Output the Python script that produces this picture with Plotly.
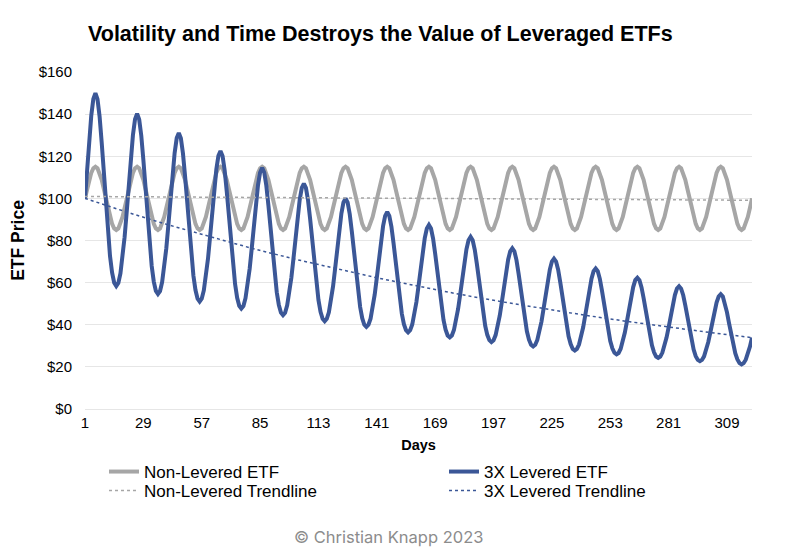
import plotly.graph_objects as go

days = list(range(1, 322))

non_levered = [
    100.0, 104.6, 108.8, 112.1, 114.3, 115.0, 114.3, 112.1, 108.8, 104.6, 100.0, 95.4, 91.2, 87.9, 85.7, 85.0, 85.7, 87.9, 91.2, 95.4,
    100.0, 104.6, 108.8, 112.1, 114.3, 115.0, 114.3, 112.1, 108.8, 104.6, 100.0, 95.4, 91.2, 87.9, 85.7, 85.0, 85.7, 87.9, 91.2, 95.4,
    100.0, 104.6, 108.8, 112.1, 114.3, 115.0, 114.3, 112.1, 108.8, 104.6, 100.0, 95.4, 91.2, 87.9, 85.7, 85.0, 85.7, 87.9, 91.2, 95.4,
    100.0, 104.6, 108.8, 112.1, 114.3, 115.0, 114.3, 112.1, 108.8, 104.6, 100.0, 95.4, 91.2, 87.9, 85.7, 85.0, 85.7, 87.9, 91.2, 95.4,
    100.0, 104.6, 108.8, 112.1, 114.3, 115.0, 114.3, 112.1, 108.8, 104.6, 100.0, 95.4, 91.2, 87.9, 85.7, 85.0, 85.7, 87.9, 91.2, 95.4,
    100.0, 104.6, 108.8, 112.1, 114.3, 115.0, 114.3, 112.1, 108.8, 104.6, 100.0, 95.4, 91.2, 87.9, 85.7, 85.0, 85.7, 87.9, 91.2, 95.4,
    100.0, 104.6, 108.8, 112.1, 114.3, 115.0, 114.3, 112.1, 108.8, 104.6, 100.0, 95.4, 91.2, 87.9, 85.7, 85.0, 85.7, 87.9, 91.2, 95.4,
    100.0, 104.6, 108.8, 112.1, 114.3, 115.0, 114.3, 112.1, 108.8, 104.6, 100.0, 95.4, 91.2, 87.9, 85.7, 85.0, 85.7, 87.9, 91.2, 95.4,
    100.0, 104.6, 108.8, 112.1, 114.3, 115.0, 114.3, 112.1, 108.8, 104.6, 100.0, 95.4, 91.2, 87.9, 85.7, 85.0, 85.7, 87.9, 91.2, 95.4,
    100.0, 104.6, 108.8, 112.1, 114.3, 115.0, 114.3, 112.1, 108.8, 104.6, 100.0, 95.4, 91.2, 87.9, 85.7, 85.0, 85.7, 87.9, 91.2, 95.4,
    100.0, 104.6, 108.8, 112.1, 114.3, 115.0, 114.3, 112.1, 108.8, 104.6, 100.0, 95.4, 91.2, 87.9, 85.7, 85.0, 85.7, 87.9, 91.2, 95.4,
    100.0, 104.6, 108.8, 112.1, 114.3, 115.0, 114.3, 112.1, 108.8, 104.6, 100.0, 95.4, 91.2, 87.9, 85.7, 85.0, 85.7, 87.9, 91.2, 95.4,
    100.0, 104.6, 108.8, 112.1, 114.3, 115.0, 114.3, 112.1, 108.8, 104.6, 100.0, 95.4, 91.2, 87.9, 85.7, 85.0, 85.7, 87.9, 91.2, 95.4,
    100.0, 104.6, 108.8, 112.1, 114.3, 115.0, 114.3, 112.1, 108.8, 104.6, 100.0, 95.4, 91.2, 87.9, 85.7, 85.0, 85.7, 87.9, 91.2, 95.4,
    100.0, 104.6, 108.8, 112.1, 114.3, 115.0, 114.3, 112.1, 108.8, 104.6, 100.0, 95.4, 91.2, 87.9, 85.7, 85.0, 85.7, 87.9, 91.2, 95.4,
    100.0, 104.6, 108.8, 112.1, 114.3, 115.0, 114.3, 112.1, 108.8, 104.6, 100.0, 95.4, 91.2, 87.9, 85.7, 85.0, 85.7, 87.9, 91.2, 95.4,
    100.0,
]

levered_3x = [
    100.0, 113.9, 127.6, 139.2, 147.2, 150.0, 147.1, 138.9, 126.6, 112.0, 97.1, 83.6, 72.6, 64.7, 60.0, 58.4, 59.9, 64.4, 71.7, 81.6,
    93.5, 106.5, 119.2, 130.1, 137.6, 140.2, 137.5, 129.8, 118.3, 104.7, 90.8, 78.1, 67.9, 60.5, 56.1, 54.6, 56.0, 60.2, 67.0, 76.2,
    87.4, 99.5, 111.4, 121.6, 128.6, 131.1, 128.5, 121.3, 110.6, 97.8, 84.8, 73.0, 63.4, 56.5, 52.4, 51.0, 52.4, 56.3, 62.6, 71.3,
    81.7, 93.0, 104.2, 113.7, 120.2, 122.5, 120.1, 113.4, 103.4, 91.4, 79.3, 68.3, 59.3, 52.8, 49.0, 47.7, 48.9, 52.6, 58.6, 66.6,
    76.3, 86.9, 97.4, 106.3, 112.3, 114.5, 112.3, 106.0, 96.6, 85.5, 74.1, 63.8, 55.4, 49.4, 45.8, 44.6, 45.7, 49.2, 54.7, 62.3,
    71.3, 81.3, 91.0, 99.3, 105.0, 107.0, 105.0, 99.1, 90.3, 79.9, 69.3, 59.6, 51.8, 46.1, 42.8, 41.7, 42.8, 45.9, 51.2, 58.2,
    66.7, 75.9, 85.1, 92.8, 98.1, 100.0, 98.1, 92.6, 84.4, 74.7, 64.7, 55.7, 48.4, 43.1, 40.0, 39.0, 40.0, 42.9, 47.8, 54.4,
    62.3, 71.0, 79.5, 86.8, 91.7, 93.5, 91.7, 86.6, 78.9, 69.8, 60.5, 52.1, 45.2, 40.3, 37.4, 36.4, 37.4, 40.1, 44.7, 50.8,
    58.3, 66.4, 74.3, 81.1, 85.7, 87.4, 85.7, 80.9, 73.7, 65.2, 56.6, 48.7, 42.3, 37.7, 34.9, 34.0, 34.9, 37.5, 41.8, 47.5,
    54.4, 62.0, 69.5, 75.8, 80.1, 81.7, 80.1, 75.6, 68.9, 61.0, 52.9, 45.5, 39.5, 35.2, 32.7, 31.8, 32.6, 35.1, 39.0, 44.4,
    50.9, 58.0, 64.9, 70.9, 74.9, 76.3, 74.9, 70.7, 64.4, 57.0, 49.4, 42.5, 36.9, 32.9, 30.5, 29.7, 30.5, 32.8, 36.5, 41.5,
    47.6, 54.2, 60.7, 66.2, 70.0, 71.4, 70.0, 66.1, 60.2, 53.3, 46.2, 39.8, 34.5, 30.8, 28.5, 27.8, 28.5, 30.6, 34.1, 38.8,
    44.5, 50.6, 56.7, 61.9, 65.4, 66.7, 65.4, 61.8, 56.3, 49.8, 43.2, 37.2, 32.3, 28.8, 26.7, 26.0, 26.6, 28.6, 31.9, 36.3,
    41.6, 47.3, 53.0, 57.9, 61.2, 62.3, 61.1, 57.7, 52.6, 46.5, 40.3, 34.7, 30.2, 26.9, 24.9, 24.3, 24.9, 26.8, 29.8, 33.9,
    38.8, 44.2, 49.5, 54.1, 57.2, 58.3, 57.1, 54.0, 49.2, 43.5, 37.7, 32.5, 28.2, 25.1, 23.3, 22.7, 23.3, 25.0, 27.9, 31.7,
    36.3, 41.4, 46.3, 50.5, 53.4, 54.5, 53.4, 50.4, 45.9, 40.7, 35.2, 30.3, 26.4, 23.5, 21.8, 21.2, 21.8, 23.4, 26.0, 29.6,
    33.9,
]

non_levered_trend_days = [1, 321]
non_levered_trend = [100.9, 99.1]

levered_trend_days = [1, 21, 41, 61, 81, 101, 121, 141, 161, 181, 201, 221, 241, 261, 281, 301, 321]
levered_trend = [100.0, 93.5, 87.4, 81.7, 76.3, 71.3, 66.7, 62.3, 58.3, 54.4, 50.9, 47.6, 44.5, 41.6, 38.8, 36.3, 33.9]

x_tick_vals = [1, 29, 57, 85, 113, 141, 169, 197, 225, 253, 281, 309]
x_tick_text = ["1", "29", "57", "85", "113", "141", "169", "197", "225", "253", "281", "309"]

GRAY = "#a6a6a6"
NAVY = "#3b5797"
FONT = "Liberation Sans, Arial, Helvetica, sans-serif"

fig = go.Figure()
fig.add_trace(go.Scatter(x=days, y=non_levered, mode="lines", name="Non-Levered ETF",
                         line=dict(color=GRAY, width=4), legend="legend", showlegend=True))
fig.add_trace(go.Scatter(x=days, y=levered_3x, mode="lines", name="3X Levered ETF",
                         line=dict(color=NAVY, width=4), legend="legend2", showlegend=True))
fig.add_trace(go.Scatter(x=non_levered_trend_days, y=non_levered_trend, mode="lines",
                         name="Non-Levered Trendline",
                         line=dict(color=GRAY, width=1.5, dash="dot"), legend="legend3", showlegend=True))
fig.add_trace(go.Scatter(x=levered_trend_days, y=levered_trend, mode="lines",
                         name="3X Levered Trendline",
                         line=dict(color=NAVY, width=1.5, dash="dot"), legend="legend4", showlegend=True))

# The page body has an 8px margin, so the figure is 8px smaller on each side
OFF = 8
W, H = 793 - OFF, 560 - OFF
L, T = 85 - OFF, 72 - OFF
R = W - (752 - OFF)
B = H - (409 - OFF)
pw, ph = W - L - R, H - T - B

def px_x(x):
    return (x - OFF - L) / pw

def px_y(y):
    return (H - B - (y - OFF)) / ph

leg_common = dict(font=dict(family=FONT, size=17, color="#000000"), bgcolor="rgba(0,0,0,0)",
                  borderwidth=0, itemwidth=30, yanchor="middle", xanchor="left", visible=True)

fig.update_layout(
    width=W, height=H,
    margin=dict(l=L, r=R, t=T, b=B, autoexpand=False),
    showlegend=True,
    plot_bgcolor="white", paper_bgcolor="white",
    font=dict(family=FONT, color="#000000"),
    title=dict(text="<b>Volatility and Time Destroys the Value of Leveraged ETFs</b>",
               font=dict(family=FONT, size=21.5, color="#000000"),
               xref="paper", x=px_x(88), xanchor="left",
               yref="container", y=1 - (33 - OFF) / H, yanchor="middle"),
    xaxis=dict(range=[1, 321], tickvals=x_tick_vals, ticktext=x_tick_text,
               showgrid=False, zeroline=False, showline=False, ticks="", automargin=False,
               ticklabelstandoff=3,
               tickfont=dict(family=FONT, size=15, color="#000000"),
               title=dict(text="<b>Days</b>", font=dict(family=FONT, size=14.5, color="#000000"), standoff=9)),
    yaxis=dict(range=[0, 160], dtick=20, tickprefix="$", showgrid=True, gridcolor="#e6e6e6",
               gridwidth=1, zeroline=True, zerolinecolor="#e6e6e6", zerolinewidth=1,
               showline=False, ticks="", ticklabelstandoff=12, automargin=False,
               tickfont=dict(family=FONT, size=15, color="#000000"),
               title=dict(text="<b>ETF Price</b>", font=dict(family=FONT, size=17.5, color="#000000"), standoff=10)),
    legend=dict(x=px_x(104), y=px_y(472), **leg_common),
    legend2=dict(x=px_x(444), y=px_y(472), **leg_common),
    legend3=dict(x=px_x(104), y=px_y(491), **leg_common),
    legend4=dict(x=px_x(444), y=px_y(491), **leg_common),
    annotations=[dict(text="© Christian Knapp 2023", xref="paper", yref="paper",
                      x=px_x(388), y=px_y(537), xanchor="center", yanchor="middle",
                      showarrow=False, font=dict(family="Inter, Noto Sans, sans-serif", size=16.5, color="#8c8c8c"))],
    hovermode=False,
)

fig.write_html("out.html")
